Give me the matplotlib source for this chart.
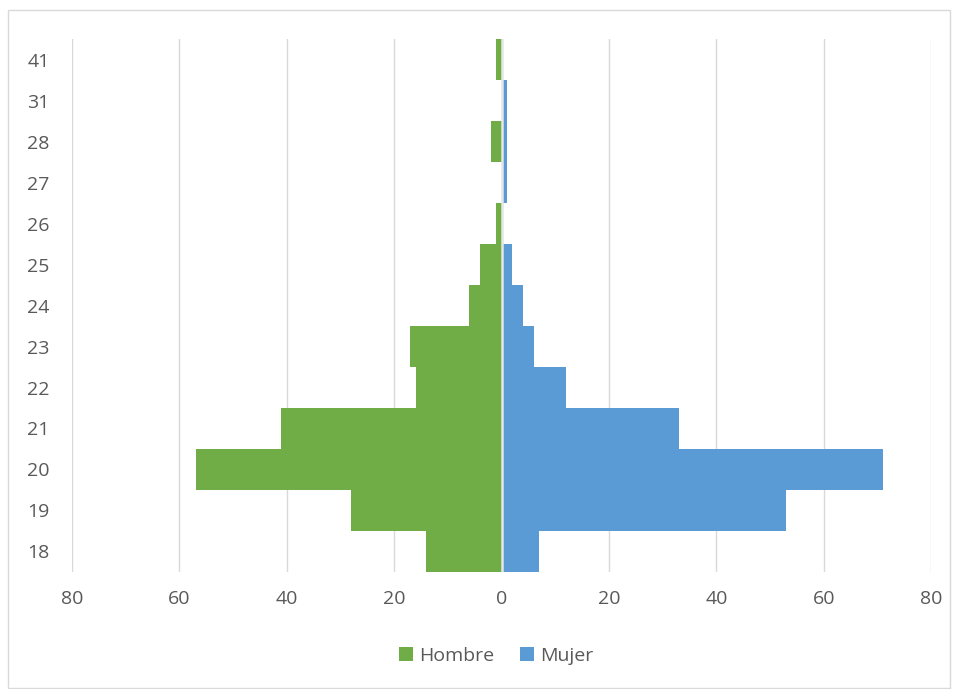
import matplotlib
matplotlib.use("Agg")
import matplotlib.pyplot as plt
import numpy as np

categories = ["18", "19", "20", "21", "22", "23", "24", "25", "26", "27", "28", "31", "41"]
hombre = [14, 28, 57, 41, 16, 17, 6, 4, 1, 0, 2, 0, 1]
mujer = [7, 53, 71, 33, 12, 6, 4, 2, 0, 1, 1, 1, 0]
xticks = [-80, -60, -40, -20, 0, 20, 40, 60, 80]
xticklabels = ["80", "60", "40", "20", "0", "20", "40", "60", "80"]

plt.rcParams['font.family'] = ['Open Sans', 'DejaVu Sans']

fig = plt.figure(figsize=(9.6, 6.89), dpi=100)
ax = fig.add_axes([0.075, 0.170, 0.895, 0.773])

# outer chart border
border = plt.Rectangle((8/960, 1-688/689), 942/960, 678/689, transform=fig.transFigure,
                       fill=False, edgecolor='#d9d9d9', linewidth=1)
fig.patches.append(border)

y = np.arange(len(categories))
ax.barh(y, -np.array(hombre), height=1.0, color='#70AD47', label='Hombre', zorder=2, linewidth=0)
ax.barh(y, mujer, height=1.0, color='#5B9BD5', label='Mujer', zorder=2, linewidth=0)
ax.axvline(0, color='#e6e6e6', linewidth=1.8, zorder=3)

ax.set_xlim(-80, 80)
ax.set_ylim(-0.5, len(categories) - 0.5)
ax.set_yticks(y)
ax.set_yticklabels(categories)
ax.set_xticks(xticks)
ax.set_xticklabels(xticklabels)
ax.grid(axis='x', color='#d9d9d9', linewidth=1, zorder=0)
ax.set_axisbelow(True)
for s in ax.spines.values():
    s.set_visible(False)
ax.tick_params(axis='both', length=0, labelsize=14, labelcolor='#595959')
ax.tick_params(axis='x', pad=13)
ax.tick_params(axis='y', pad=16)

leg = fig.legend(loc='center', bbox_to_anchor=(496/960, 1-656/689), ncol=2, frameon=False,
                 fontsize=14, handlelength=0.75, handleheight=0.75, handletextpad=0.3,
                 columnspacing=1.3)
for t in leg.get_texts():
    t.set_color('#595959')

fig.savefig('out.png', dpi=100)
